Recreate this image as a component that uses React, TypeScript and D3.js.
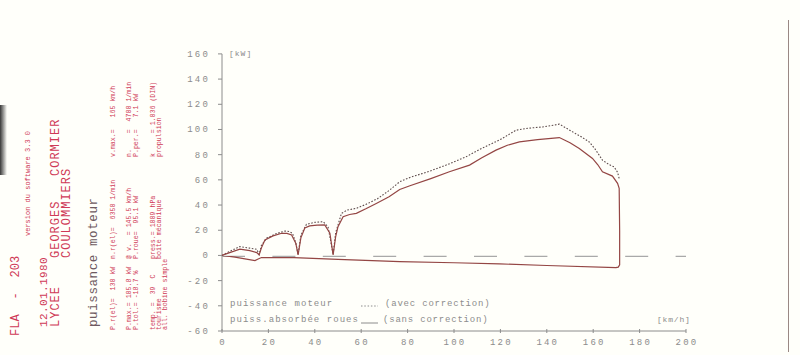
import React from "react";
import * as d3 from "d3";

// ---- data ----
const yTicks = [-60, -40, -20, 0, 20, 40, 60, 80, 100, 120, 140, 160];
const xTicks = [0, 20, 40, 60, 80, 100, 120, 140, 160, 180, 200];

// puiss. absorbée roues (sans correction) - solid, traced as a loop
const solidSpeed = [0, 3, 7.7, 12, 15, 16, 17, 18.5, 22, 25.7, 28, 30, 31.8, 32.8, 34, 35.7, 37.8, 41, 44.3, 46.5, 47.9, 49, 50, 52.2, 55, 57.9, 62, 66.5, 72, 76.6, 81, 90, 98, 106.7, 112, 118.1, 123, 128.2, 136, 145.4, 150, 154, 159.7, 162, 164, 168.3, 170.5, 171.2, 171.4, 171.4, 170.8, 169.8, 140, 119.6, 100, 76.6, 50, 31, 17, 15.6, 14.2, 9.9, 5.6, 0];
const solidPower = [0, 2, 5, 3.8, 2.2, 0.4, 6, 12.3, 15.5, 17.6, 17.5, 16.2, 9.7, 0.4, 14, 21.8, 23.4, 24, 24.2, 17.6, 0.4, 15, 22.8, 30.7, 32.5, 33.4, 37, 41.3, 46.5, 52.4, 55.3, 61, 66.4, 71.7, 77.5, 83.6, 87.5, 90.1, 92, 93.6, 89.5, 84.9, 77, 72, 66.4, 63, 57.2, 53.2, 20, -7.5, -9.3, -9.7, -8, -6.7, -5.8, -4.9, -3.2, -1.7, -1.7, -2.8, -4.1, -2.8, -1.4, 0];

// puissance moteur (avec correction) - dotted
const dotSpeed = [0, 3, 7.7, 12, 15, 16, 17, 19.2, 23, 27.1, 29, 30.4, 31.8, 32.8, 34, 36.4, 40, 43.6, 45.7, 47.9, 49, 51.5, 54, 57.9, 62, 67, 72, 76.6, 81, 89.5, 97, 105.2, 112, 120, 126.7, 132, 138.2, 145.4, 148, 151.1, 155, 158.3, 161, 164, 167, 169, 170.5, 171.2];
const dotPower = [0, 3, 7, 5.8, 4.9, 0.8, 8, 13.6, 17, 19.4, 19, 17.6, 10, 0.8, 16, 24.7, 26.3, 26.8, 22.8, 0.8, 18, 33.4, 36, 37.4, 40.5, 45, 51.5, 58.5, 61.9, 66.9, 72, 78.3, 85, 92, 99.4, 101, 102, 104.2, 101.5, 98.1, 94, 90.1, 84, 75.6, 72, 70.3, 66, 61.1];

const headerLines = [
  { text: "FLA  -  203", x: 19, y: 336, size: 12, ls: 0.1 },
  { text: "12.01.1980", x: 47, y: 327, size: 11, ls: 0.4 },
  { text: "LYCEE", x: 59, y: 327, size: 12, ls: 1 },
  { text: "GEORGES", x: 59, y: 258, size: 12, ls: 1 },
  { text: "CORMIER", x: 59, y: 176, size: 12, ls: 1 },
  { text: "COULOMMIERS", x: 70, y: 258, size: 12, ls: 1 },
];
const versionText = "version du software 3.3 0";
const titleText = "puissance moteur";
const infoLines = [
  { text: "P.r(el)=  130 kW", x: 115, y: 330 },
  { text: "n.r(el)=  6350 1/min", x: 115, y: 259 },
  { text: "v.max.=   165 km/h", x: 115, y: 157 },
  { text: "P.max.= 105.8 kW", x: 131, y: 330 },
  { text: "P.tol.= -18.7 %", x: 138, y: 330 },
  { text: "@ v.  = 145.5 km/h", x: 131, y: 259 },
  { text: "P.roue=  95.1 kW", x: 138, y: 259 },
  { text: "n.    =  4700 1/min", x: 131, y: 157 },
  { text: "P.per.=   7.1 kW", x: 138, y: 157 },
  { text: "temp. =  39  C", x: 155, y: 330 },
  { text: "tourisme", x: 161, y: 330 },
  { text: "all. bobine simple", x: 167, y: 330 },
  { text: "press.= 1009 hPa", x: 155, y: 259 },
  { text: "boite mécanique", x: 161, y: 259 },
  { text: "k     = 1.036 (DIN)", x: 155, y: 157 },
  { text: "propulsion", x: 161, y: 157 },
];

const W = 800;
const H = 355;
const x0 = 222, x1 = 686;
const yTop = 53.9, yBot = 331;

export default function App() {
  const x = d3.scaleLinear().domain([0, 200]).range([x0, x1]);
  const y = d3.scaleLinear().domain([-60, 160]).range([yBot, yTop]);

  const solid = solidSpeed.map((v, i) => [v, solidPower[i]] as [number, number]);
  const dotted = dotSpeed.map((v, i) => [v, dotPower[i]] as [number, number]);
  const line = d3
    .line<[number, number]>()
    .x((d) => x(d[0]))
    .y((d) => y(d[1]))
    .curve(d3.curveLinear);

  const mono = "'Liberation Mono', 'DejaVu Sans Mono', monospace";
  const axisCol = "#8c8c8c";
  const red = "#cf3a57";

  return (
    <div style={{ position: "absolute", left: 0, top: 0 }}>
      <svg width={W} height={H} style={{ display: "block" }}>
        <defs>
          <linearGradient id="edge" x1="0" x2="1" y1="0" y2="0">
            <stop offset="0" stopColor="#222" stopOpacity="0.9" />
            <stop offset="1" stopColor="#222" stopOpacity="0" />
          </linearGradient>
        </defs>
        <rect width={W} height={H} fill="#fffffa" />
        <rect x={0} y={105} width={7} height={70} fill="url(#edge)" />
        {/* right border */}
        <line x1={788.5} x2={788.5} y1={20} y2={352} stroke="#9a8884" strokeWidth={1} />

        {/* rotated header texts */}
        {headerLines.map((t, i) => (
          <text key={"h" + i} transform={`translate(${t.x},${t.y}) rotate(-90)`} fontFamily={mono} fontSize={t.size} fill={red} letterSpacing={t.ls} style={{ whiteSpace: "pre" }}>
            {t.text}
          </text>
        ))}
        <text transform={`translate(30,236) rotate(-90)`} fontFamily={mono} fontSize={7} fill={red}>
          {versionText}
        </text>
        <text transform={`translate(97,327) rotate(-90)`} fontFamily={mono} fontSize={12.5} fill="#6e5a60" letterSpacing={0.6}>
          {titleText}
        </text>
        {infoLines.map((t, i) => (
          <text key={"i" + i} transform={`translate(${t.x},${t.y}) rotate(-90)`} fontFamily={mono} fontSize={6.6} fill={red} style={{ whiteSpace: "pre" }}>
            {t.text}
          </text>
        ))}

        {/* axes */}
        <line x1={x0} x2={x0} y1={y(160)} y2={yBot} stroke={axisCol} strokeWidth={1} />
        <line x1={x0} x2={x1} y1={yBot} y2={yBot} stroke={axisCol} strokeWidth={1} />
        {yTicks.map((t) => (
          <g key={"yt" + t}>
            <line x1={x0 - 4} x2={x0} y1={y(t)} y2={y(t)} stroke={axisCol} />
            <text x={210} y={y(t) + 3} textAnchor="end" fontFamily={mono} fontSize={9} fill={axisCol} letterSpacing={2.2}>
              {t}
            </text>
          </g>
        ))}
        {xTicks.map((t) => (
          <g key={"xt" + t}>
            <line x1={x(t)} x2={x(t)} y1={yBot - 2} y2={yBot + 2} stroke={axisCol} />
            <text x={x(t) + 1} y={yBot + 14} textAnchor="middle" fontFamily={mono} fontSize={9} fill={axisCol} letterSpacing={2.2}>
              {t}
            </text>
          </g>
        ))}
        <text x={229} y={56} fontFamily={mono} fontSize={8} fill={axisCol} letterSpacing={1}>[kW]</text>
        <text x={657} y={322} fontFamily={mono} fontSize={8} fill={axisCol} letterSpacing={0.8}>[km/h]</text>

        {/* zero dashed line */}
        <line x1={x0} x2={x1} y1={y(0) + 1} y2={y(0) + 1} stroke="#a9a9a9" strokeWidth={1.2} strokeDasharray="23 27.4" />

        {/* curves */}
        <path d={line(dotted) || ""} fill="none" stroke="#5e4c4c" strokeWidth={1.1} strokeDasharray="1.6 1.6" />
        <path d={line(solid) || ""} fill="none" stroke="#944644" strokeWidth={1.2} />

        {/* legend */}
        <text x={230} y={306} fontFamily={mono} fontSize={9} fill={axisCol} letterSpacing={1.05} style={{ whiteSpace: "pre" }}>
          {"puissance moteur"}
        </text>
        <line x1={361} x2={378} y1={306} y2={306} stroke={axisCol} strokeDasharray="1.5 1.8" />
        <text x={385} y={306} fontFamily={mono} fontSize={9} fill={axisCol} letterSpacing={0.8}>(avec correction)</text>
        <text x={230} y={322} fontFamily={mono} fontSize={9} fill={axisCol} letterSpacing={1.05}>puiss.absorbée roues</text>
        <line x1={361} x2={378} y1={323} y2={323} stroke={axisCol} />
        <text x={383} y={322} fontFamily={mono} fontSize={9} fill={axisCol} letterSpacing={0.8}>(sans correction)</text>
      </svg>
    </div>
  );
}
